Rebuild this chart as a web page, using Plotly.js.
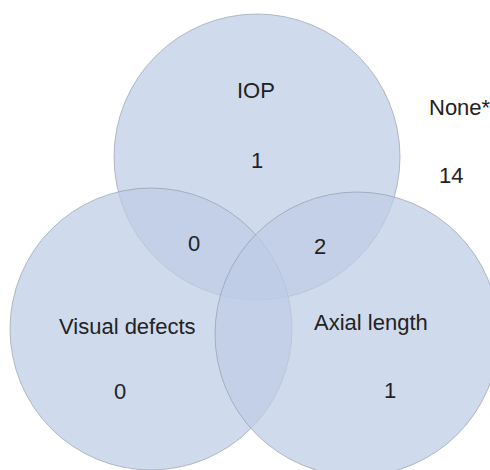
<!DOCTYPE html>
<html>
<head>
<meta charset="utf-8">
<script src="https://cdn.plot.ly/plotly-3.0.1.min.js"></script>
<style>html,body{margin:0;padding:0;background:#fff;}#chart{width:490px;height:470px;}</style>
</head>
<body>
<div id="chart"></div>
<script>
// ---- data ----
var setNames = ['IOP', 'Visual defects', 'Axial length'];
var regionNames = ['IOP only', 'Visual defects only', 'Axial length only', 'IOP & Visual defects', 'IOP & Axial length', 'None*'];
var regionCounts = [1, 0, 1, 0, 2, 14];
var outsideLabel = 'None*';

// ---- layout geometry (pixel space) ----
var circleGeom = [
  {cx: 257, cy: 157, r: 143},
  {cx: 151, cy: 329, r: 141},
  {cx: 357, cy: 334, r: 142}
];
var setLabelPos = [[256, 90], [127, 326], [371, 322]];
var countPos = [[257, 160], [120, 391], [390, 390], [194, 243], [320, 246], [451, 175]];
var outsideLabelPos = [460, 107];

var fontSpec = {family: 'Liberation Sans, Arial, sans-serif', size: 22, color: '#222222'};

var shapes = circleGeom.map(function (c) {
  return {
    type: 'circle', xref: 'x', yref: 'y',
    x0: c.cx - c.r, x1: c.cx + c.r, y0: c.cy - c.r, y1: c.cy + c.r,
    fillcolor: 'rgba(190,204,230,0.72)',
    line: {color: 'rgba(140,148,162,0.6)', width: 1},
    layer: 'below'
  };
});

var annotations = [];
setNames.forEach(function (n, i) {
  annotations.push({x: setLabelPos[i][0], y: setLabelPos[i][1], text: n, showarrow: false,
    xanchor: 'center', yanchor: 'middle', font: fontSpec});
});
regionCounts.forEach(function (v, i) {
  annotations.push({x: countPos[i][0], y: countPos[i][1], text: String(v), showarrow: false,
    xanchor: 'center', yanchor: 'middle', font: fontSpec});
});
annotations.push({x: outsideLabelPos[0], y: outsideLabelPos[1], text: outsideLabel, showarrow: false,
  xanchor: 'center', yanchor: 'middle', font: fontSpec});

var layout = {
  width: 490, height: 470,
  margin: {l: 0, r: 0, t: 0, b: 0},
  paper_bgcolor: '#ffffff', plot_bgcolor: '#ffffff',
  xaxis: {range: [0, 490], visible: false, fixedrange: true},
  yaxis: {range: [470, 0], visible: false, fixedrange: true},
  showlegend: false,
  shapes: shapes,
  annotations: annotations
};

Plotly.newPlot('chart', [{x: [], y: [], type: 'scatter', mode: 'markers', hoverinfo: 'skip'}], layout, {displayModeBar: false, staticPlot: true});
</script>
</body>
</html>
